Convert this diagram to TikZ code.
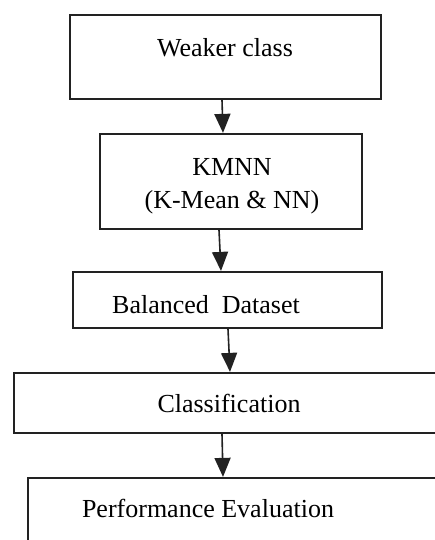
\documentclass[tikz,border=0pt]{standalone}
\usepackage{fontspec}
\setmainfont{Liberation Serif}
\usetikzlibrary{arrows.meta}
\definecolor{darkline}{RGB}{34,34,34}

\begin{document}
\begin{tikzpicture}[x=1pt,y=-1pt,
    block/.style={draw=darkline, line width=2.2pt, inner sep=0pt},
    txt/.style={anchor=base, inner sep=0pt, font=\fontsize{26}{33}\selectfont},
    flow/.style={darkline, line width=1.6pt, -{Triangle[width=16pt,length=19pt]}}]
        \useasboundingbox (0,0) rectangle (434,540);
        \node[block, minimum width=311pt, minimum height=84pt] (weak) at (225.5,57) {};
        \node[block, minimum width=262pt, minimum height=95pt] (kmnn) at (231,181.5) {};
        \node[block, minimum width=309pt, minimum height=56pt] (bal) at (227.5,300) {};
        \node[block, minimum width=436pt, minimum height=60pt] (cls) at (232,403) {};
        \node[block, minimum width=432pt, minimum height=102pt] (perf) at (244,529) {};
        \node[txt] (weaktxt) at (225,57) {Weaker class};
        \node[txt, align=center] (kmnntxt) at (232,208) {KMNN\\(K-Mean \& NN)};
        \node[txt] (baltxt) at (206,313) {Balanced\ \ Dataset};
        \node[txt] (clstxt) at (229,412) {Classification};
        \node[txt] (perftxt) at (208,517) {Performance Evaluation};
        \draw[flow] ([xshift=-3.5pt]weak.south) -- ([xshift=-8pt]kmnn.north);
        \draw[flow] ([xshift=-12pt]kmnn.south) -- ([xshift=-6.5pt]bal.north);
        \draw[flow] ([xshift=0.5pt]bal.south) -- ([xshift=-2pt]cls.north);
        \draw[flow] ([xshift=-10pt]cls.south) -- ([xshift=-21pt]perf.north);
        \end{tikzpicture}
\end{document}
